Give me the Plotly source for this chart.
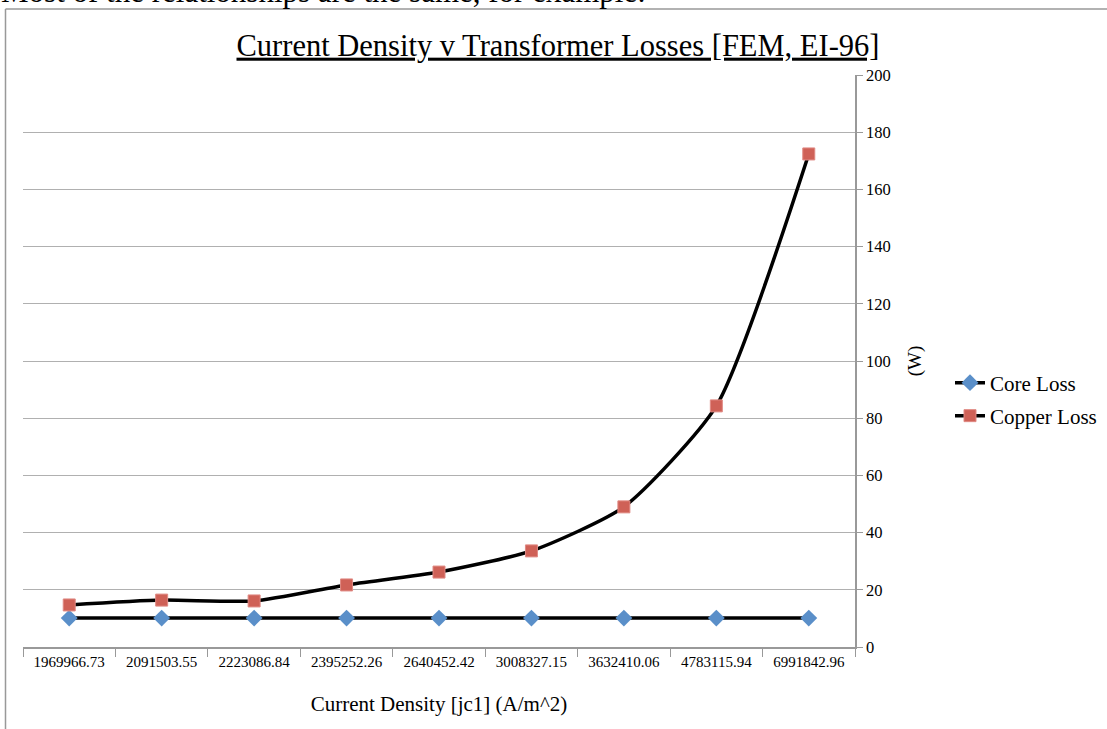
import plotly.graph_objects as go

categories = ["1969966.73", "2091503.55", "2223086.84", "2395252.26", "2640452.42",
              "3008327.15", "3632410.06", "4783115.94", "6991842.96"]
core_loss = [10.1, 10.1, 10.1, 10.1, 10.1, 10.1, 10.1, 10.1, 10.1]
copper_loss = [14.7, 16.4, 16.1, 21.7, 26.2, 33.6, 49.0, 84.3, 172.4]
y_ticks = [0, 20, 40, 60, 80, 100, 120, 140, 160, 180, 200]

FONT = "Liberation Serif"

fig = go.Figure()
fig.add_trace(go.Scatter(
    x=categories, y=core_loss, name="Core Loss", mode="lines+markers",
    line=dict(color="black", width=3.5, shape="spline", smoothing=0.6),
    marker=dict(symbol="diamond", size=13, color="#5A8FC9", line=dict(color="#5A8FC9", width=0)),
    legend="legend",
))
fig.add_trace(go.Scatter(
    x=categories, y=copper_loss, name="Copper Loss", mode="lines+markers",
    line=dict(color="black", width=3.5, shape="spline", smoothing=0.6),
    marker=dict(symbol="square", size=12, color="#CF6157", line=dict(color="#E08A84", width=1)),
    legend="legend2",
))

L, R, T, B = 23, 252, 75, 82
W, H = 1107, 729
pw, ph = W - L - R, H - T - B

def px(x):
    return (x - L) / pw

def py(y):
    return (H - B - y) / ph

fig.update_layout(
    width=W, height=H,
    margin=dict(l=L, r=R, t=T, b=B, autoexpand=False),
    paper_bgcolor="white", plot_bgcolor="white",
    font=dict(family=FONT, color="black"),
    title=dict(text="<u>Current Density v Transformer Losses [FEM, EI-96]</u>",
               x=px(558), xanchor="center", xref="paper",
               y=1 - 45 / H, yanchor="middle",
               font=dict(family=FONT, size=30.5, color="black")),
    xaxis=dict(
        type="category", tickson="boundaries", ticks="outside", ticklen=8,
        tickcolor="#999999", showline=True, linecolor="#999999", linewidth=1.5,
        showgrid=False, tickfont=dict(family=FONT, size=15, color="black"),
        title=dict(text="Current Density [jc1] (A/m^2)", font=dict(family=FONT, size=21, color="black"),
                   standoff=28),
        range=[-0.5, 8.5], fixedrange=True,
    ),
    yaxis=dict(
        side="right", range=[0, 200], tickvals=y_ticks, ticks="outside", ticklen=6,
        tickcolor="#999999", showline=True, linecolor="#999999", linewidth=1.5,
        showgrid=True, gridcolor="#B0B0B0", gridwidth=1.3, zeroline=False,
        tickfont=dict(family=FONT, size=16.5, color="black"),
        title=dict(text="(W)", font=dict(family=FONT, size=19, color="black"), standoff=18),
    ),
    legend=dict(x=px(950), y=py(383), xanchor="left", yanchor="middle",
                font=dict(family=FONT, size=21, color="black"), bgcolor="rgba(0,0,0,0)",
                itemwidth=30),
    legend2=dict(x=px(950), y=py(416), xanchor="left", yanchor="middle",
                 font=dict(family=FONT, size=21, color="black"), bgcolor="rgba(0,0,0,0)",
                 itemwidth=30),
    showlegend=True,
)

# outer chart frame (left and top edges visible in the screenshot)
fig.add_shape(type="line", xref="paper", yref="paper", x0=px(5.5), x1=px(5.5), y0=py(9), y1=py(740),
              line=dict(color="#999999", width=1.5))
fig.add_shape(type="line", xref="paper", yref="paper", x0=px(5.5), x1=px(1120), y0=py(9), y1=py(9),
              line=dict(color="#999999", width=1.5))

# document text cut at the top of the screenshot
fig.add_annotation(text="Most of the relationships are the same, for example:",
                   xref="paper", yref="paper", x=px(-1), y=py(-8), xanchor="left", yanchor="middle",
                   showarrow=False, font=dict(family=FONT, size=31, color="black"))

fig.write_html("out.html", config={"displayModeBar": False},
               post_script="document.body.style.margin='0px';")
